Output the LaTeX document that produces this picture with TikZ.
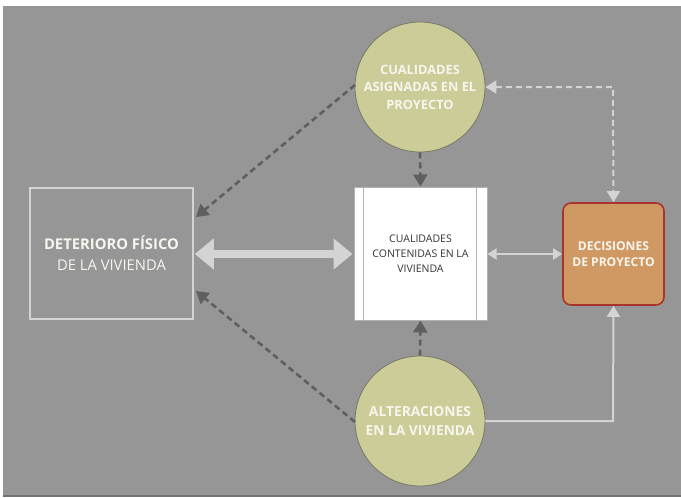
\documentclass[tikz,border=0pt]{standalone}
\usepackage{fontspec}
\setmainfont{Open Sans}
\usetikzlibrary{arrows.meta}
\definecolor{bg}{RGB}{150,150,150}
\definecolor{olive}{RGB}{204,204,153}
\definecolor{oliveedge}{RGB}{120,120,100}
\definecolor{darkdash}{RGB}{95,95,95}
\definecolor{lightline}{RGB}{212,212,212}
\definecolor{orangebox}{RGB}{208,152,98}
\definecolor{rededge}{RGB}{168,52,44}
\definecolor{txtw}{RGB}{246,246,238}
\tikzset{
  circ/.style={circle, fill=olive, draw=oliveedge, line width=0.8pt, minimum size=130pt, inner sep=0pt,
    text=txtw, align=center},
  darkarrow/.style={draw=darkdash, line width=2.6pt, dash pattern=on 6pt off 4pt,
    -{Triangle[length=12pt,width=14pt]}},
  lightdash/.style={draw=lightline, line width=2pt, dash pattern=on 6pt off 4pt},
  lightsolid/.style={draw=lightline, line width=2pt},
}
\begin{document}
\begin{tikzpicture}[x=1pt,y=-1pt]
\useasboundingbox (0,0) rectangle (681,498);
\fill[white] (0,0) rectangle (681,498);
\fill[bg] (3,6) rectangle (681,495);
\fill[black!55] (3,495) rectangle (681,497);

% nodes
\node[circ, font=\fontsize{12.8}{17.5}\selectfont\bfseries] (top) at (420,87) {CUALIDADES\\ASIGNADAS EN EL\\PROYECTO};
\node[circ, font=\fontsize{13.8}{19}\selectfont\bfseries] (bot) at (420,421) {ALTERACIONES\\EN LA VIVIENDA};

\node[draw=lightline, line width=1.6pt, minimum width=163pt, minimum height=131pt, inner sep=0pt,
  text=txtw, font=\fontsize{14.8}{21}\selectfont, align=center] (det) at (111.5,253.5)
  {\textbf{DETERIORO FÍSICO}\\DE LA VIVIENDA};

\node[fill=white, draw=black!30, line width=1pt, minimum width=133pt, minimum height=133pt, inner sep=0pt,
  text=black!80, font=\fontsize{10.5}{15}\selectfont, align=center] (cont) at (420.5,253.5)
  {CUALIDADES\\CONTENIDAS EN LA\\VIVIENDA};
\draw[black!30, line width=0.8pt] ([xshift=10pt]cont.north west) -- ([xshift=10pt]cont.south west);
\draw[black!30, line width=0.8pt] ([xshift=-11pt]cont.north east) -- ([xshift=-11pt]cont.south east);

\node[fill=orangebox, draw=rededge, line width=1.6pt, rounded corners=8pt, minimum width=101pt,
  minimum height=102pt, inner sep=0pt, text=txtw, font=\fontsize{12.1}{16}\selectfont\bfseries, align=center]
  (dec) at (613.5,254) {DECISIONES\\DE PROYECTO};

% coordinates
\coordinate (topL) at (355,85);
\coordinate (botL) at (355,422);
\coordinate (detTR) at (196,217);
\coordinate (detBR) at (196,291);
\coordinate (cornerTop) at (613,87);
\coordinate (cornerBot) at (613,421);

% connectors
\draw[darkarrow] (topL) -- (detTR);
\draw[darkarrow] (botL) -- (detBR);
\draw[darkarrow] (top.south) -- (cont.north);
\draw[darkarrow] (bot.north) -- (cont.south);

\draw[draw=lightline, line width=8pt, {Triangle[length=19pt,width=30pt]}-{Triangle[length=19pt,width=30pt]}]
  ([xshift=1pt]det.east |- 0,254) -- ([xshift=-1pt]cont.west |- 0,254);
\draw[lightsolid, {Triangle[length=9pt,width=11pt]}-{Triangle[length=9pt,width=11pt]}]
  (cont.east |- 0,254) -- (dec.west |- 0,254);

\draw[lightdash, {Triangle[length=11pt,width=13pt]}-{Triangle[length=11pt,width=13pt]}]
  (top.east |- 0,87) -- (cornerTop) -- (dec.north);
\draw[lightsolid, -{Triangle[length=11pt,width=13pt]}]
  (bot.east |- 0,421) -- (cornerBot) -- (dec.south);
\end{tikzpicture}
\end{document}
